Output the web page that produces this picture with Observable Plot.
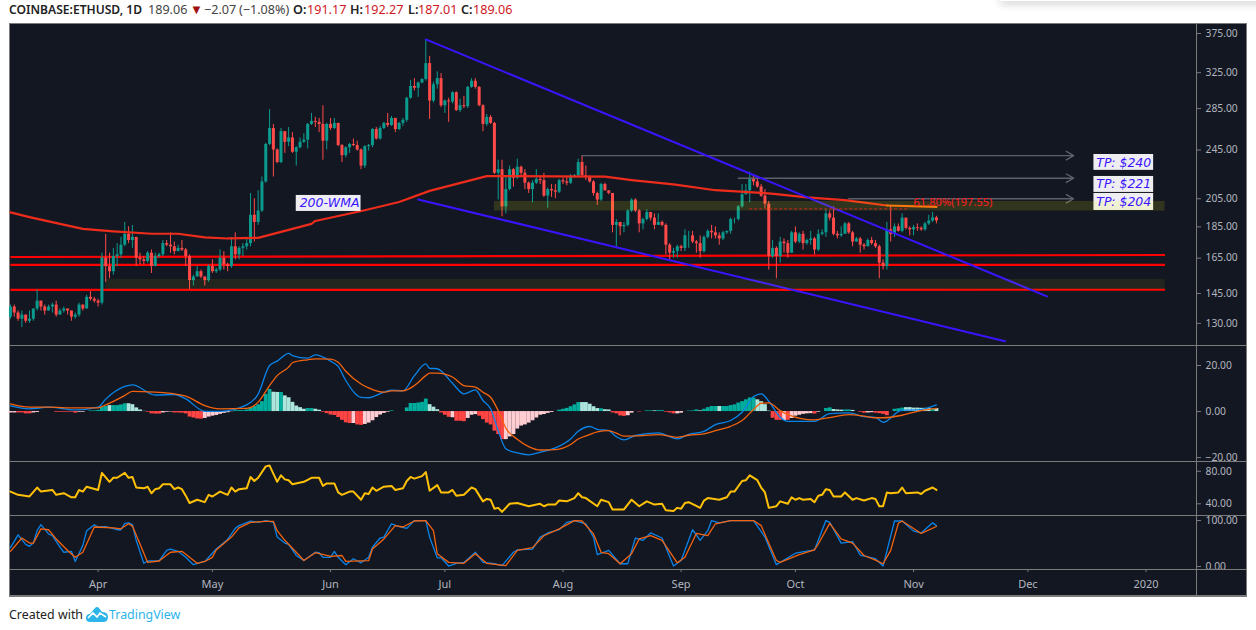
<!DOCTYPE html>
<html><head><meta charset="utf-8">
<script src="https://cdn.jsdelivr.net/npm/d3@7"></script>
<script src="https://cdn.jsdelivr.net/npm/@observablehq/plot@0.6"></script>
<style>
html,body{margin:0;padding:0;background:#fff;width:1256px;height:630px;overflow:hidden;font-family:"Noto Sans",sans-serif}
#page{position:relative;width:1256px;height:630px;overflow:hidden}
#page svg{position:absolute;left:0}
.abs{position:absolute}
#frame{left:9px;top:23px;width:1236px;height:572px;background:#131722;border:1px solid #7b7b7b}
.hline{left:9px;width:1237px;height:1px;background:#7b7b7b}
#vline{left:1196px;top:23px;width:1px;height:573px;background:#7b7b7b}
#shadow{left:1000px;top:-3px;width:270px;height:4px;box-shadow:0 2px 9px rgba(0,0,0,.3);background:#fff}
.lg{position:absolute;top:0;line-height:19px;font-size:12.6px;color:#444;white-space:pre}
.lg.b{font-weight:600;color:#222}
.lg.n{font-weight:600;color:#222;font-size:12.1px}
.lg.v{color:#d0171f}
.lg.t{color:#a01010;font-size:13px}
#foot{left:9px;top:606px;font-size:12.4px;line-height:18px;color:#222;white-space:pre}
</style></head><body><div id="page">
<div class="abs" id="frame"></div>
<div class="abs" id="shadow"></div>
<span class="lg n" style="left:9px">COINBASE:ETHUSD, 1D</span>
<span class="lg" style="left:148px">189.06</span>
<span class="lg t" style="left:190px">▼</span>
<span class="lg" style="left:204px">−2.07</span>
<span class="lg" style="left:239px">(−1.08%)</span>
<span class="lg b" style="left:293px">O:</span>
<span class="lg v" style="left:307px">191.17</span>
<span class="lg b" style="left:350px">H:</span>
<span class="lg v" style="left:364px">192.27</span>
<span class="lg b" style="left:408px">L:</span>
<span class="lg v" style="left:418px">187.01</span>
<span class="lg b" style="left:461px">C:</span>
<span class="lg v" style="left:473px">189.06</span>
<div class="abs" id="foot">Created with</div>
<svg id="logo" width="24" height="17" viewBox="0 0 24 17" style="position:absolute;left:85px;top:606px"><path d="M1 12 Q1 8 5 8 L10 2 Q12 0 14 2 L17 6 Q23 6 23 11 Q23 16 18 16 L5 16 Q1 16 1 12Z" fill="#2bb5e8"/><path d="M3 12 L8 7 L12 11 L15 7 L21 11" fill="none" stroke="#fff" stroke-width="1.6"/></svg>
<div class="abs" style="left:109px;top:606px;font-size:12.4px;line-height:18px;color:#2bb5e8">TradingView</div>
</div>
<script>
const firstDay = "2019-03-09";
const firstOpen = 133;
const closes = [138,135,132,134,131,132,137,141,138,136,138,139,134,136,137,136,133,134,139,137,143,142,141,140,165,160,157,166,167,173,180,176,178,165,164,163,168,160,166,167,174,173,172,169,171,170,166,152,154,157,154,152,160,157,158,165,161,160,172,167,171,172,174,193,188,196,218,250,265,245,234,262,252,256,243,247,252,254,269,272,271,269,253,269,265,270,249,240,247,250,249,245,231,248,249,264,255,265,270,268,275,264,270,273,296,309,307,313,317,336,293,311,318,288,293,292,302,283,288,287,308,315,308,288,269,276,270,225,228,199,212,228,221,230,225,217,212,217,220,219,207,212,211,210,219,218,217,222,223,234,223,222,218,209,204,216,211,209,186,188,185,186,196,204,196,187,190,195,191,186,188,186,173,168,169,172,171,179,179,175,174,169,178,182,181,179,177,181,182,190,190,199,208,211,221,218,214,207,201,166,171,166,175,174,168,181,175,180,174,176,177,170,180,181,194,191,180,179,180,187,181,175,177,173,172,176,174,172,162,160,183,180,185,182,191,184,183,184.5,184,183,187,189,191.17,189.06];
const highs = [139,139,136,136,134,136,137,147,141,139,139,140,141,137,138,137,136,135,140,139,144,146,143,142,168,180,168,171,174,178,188,185,186,178,168,166,169,170,168,168,176,176,181,175,173,176,171,167,155,160,158,154,161,164,159,170,169,162,178,181,172,174,178,209,205,211,222,251,284,269,246,265,262,266,261,248,256,260,270,280,276,275,288,270,275,275,270,250,248,251,255,253,246,249,250,265,266,267,271,280,277,275,271,275,297,316,318,314,318,366,345,314,326,324,294,296,303,303,295,298,309,318,318,309,289,279,278,271,236,236,222,231,229,237,231,228,218,219,228,222,225,213,216,216,220,221,222,224,224,237,240,231,223,219,210,217,217,211,209,190,188,188,197,205,205,197,191,197,195,194,194,189,187,174,171,173,173,183,182,182,176,179,179,183,186,185,181,182,182,191,191,200,216,216,226,223,222,216,212,203,176,172,178,177,176,182,185,181,182,177,182,178,183,183,197,196,199,182,185,188,188,182,178,178,174,177,178,176,173,164,188,200,187,187,194,190,185,186,187,185,188,193,195,192.27];
const lows = [132,133,131,128,130,130,131,136,136,134,136,135,133,134,135,134,131,132,133,136,137,141,140,138,139,151,153,155,160,165,172,174,171,160,161,161,162,156,160,165,166,172,168,167,170,169,160,147,149,154,153,149,151,156,156,157,158,157,159,164,164,166,170,172,175,186,195,217,249,222,233,233,242,248,242,231,246,251,246,268,266,261,236,245,263,264,248,234,238,242,248,244,228,229,244,247,254,254,264,266,267,261,263,267,271,295,304,297,312,315,274,291,306,286,280,271,290,282,281,285,285,307,306,287,262,267,269,224,204,192,194,211,214,220,223,212,209,202,216,216,206,198,206,205,209,216,215,216,221,222,222,219,217,207,200,203,211,208,181,172,179,181,185,195,195,181,183,189,189,183,186,185,167,164,165,165,169,169,171,174,168,165,168,177,177,177,173,176,180,180,187,189,198,208,202,215,213,206,198,158,165,153,162,168,165,168,174,174,170,173,173,167,169,179,178,189,179,177,178,181,180,172,175,168,170,172,173,171,153,158,158,175,178,181.5,181,183,179,179,182,182,182,186,188,187.01];

const histValues = [-.6,-.6,-.6,-.6,-1,-1,-.6,-.4,0,0,0,0,-.3,-.3,-.3,-.3,-.3,-.7,-.3,-.3,0,.3,.3,.5,1.9,2.2,2.6,2.6,2.6,2.9,3.4,3.4,3,1.6,.7,.1,-.3,-1,-1.1,-1.1,-.6,-.3,-.2,-.6,-.6,-.7,-1,-2.4,-2.8,-3.2,-3.3,-3,-2.4,-2,-1.7,-1.2,-.8,-.5,-.1,.4,.4,.4,.7,1.5,2.2,3,4.3,7.5,9.6,8.4,8.3,8.3,6.8,6,4,2.4,1.7,1,1.3,1.3,1,.6,-.3,-.9,-1.5,-1.7,-2.6,-3.8,-4.9,-5.2,-5.2,-5.8,-6,-5.6,-5,-4,-2.6,-1.5,-.8,-.3,.3,0,0,0,1.6,3.5,3.5,3.7,4,5.4,3,1.9,.8,-.6,-1.6,-2.5,-2.7,-4.2,-4.2,-4.4,-3,-1.6,-1.3,-2,-3.5,-5,-5.8,-8.5,-10,-12.2,-12.2,-11,-10,-7.6,-6.3,-5.8,-5,-4,-2.8,-1.6,-1.3,-.8,-.4,0,.6,1,1.4,2.1,2.9,3.9,3.9,3.9,3.2,2.1,1.3,1.2,.8,.7,-.6,-1,-1.9,-2.1,-1.8,-.7,0,-.2,0,.3,.3,.3,.4,.4,-.3,-.6,-1,-1,-.7,0,.2,.3,.7,.3,1,1.7,2.2,2.2,2.2,2.2,2.2,2.6,2.9,3.7,4.3,5.1,5.9,5.9,5.1,4.3,3,.2,-2.9,-3.8,-3.8,-3.9,-3.8,-3,-2,-1.6,-1.2,-1,-.9,-1.1,-.3,0,1.3,1.6,.9,.7,.6,.7,.7,.5,0,-.3,-.7,-.6,-.5,-.7,-.9,-1.2,-1.8,0,1,1.2,1.5,1.7,1.7,1.5,1.5,1.4,1.4,1.3,1.1,1.3];
const histShades = "pprrrrpp"+"tttt"+"rrrrrr"+"pp"+"tttttt"+"l"+"tttt"+"lllll"+"rrrr"+"ppp"+"rrrrrrrr"+"pppppppp"+"tttttttttt"+"ll"+"t"+"llllll"+"tt"+"ll"+"rrrrrrrr"+"p"+"rr"+"ppppppp"+"tttttttttt"+"lll"+"rrr"+"p"+"rrr"+"ppp"+"rrrrrrr"+"ppppppppppppp"+"ttttttt"+"lllll"+"t"+"ll"+"rrrr"+"pp"+"t"+"r"+"ttt"+"l"+"tt"+"rrr"+"pp"+"tttt"+"l"+"tttt"+"l"+"ttttttttt"+"llll"+"rrr"+"p"+"r"+"pppppp"+"r"+"p"+"ttt"+"lll"+"tt"+"l"+"t"+"rr"+"pp"+"rrrr"+"tttt"+"lllllll"+"t"+"l";

const macdDays = [0,5,10,17,23,25,30,32,38,43,46,51,55,62,65,68,70,73,74,78,80,84,86,88,92,94,98,100,103,106,109,110,112,116,119,122,124,126,128,130,133,136,139,143,147,149,152,154,157,159,161,164,170,175,178,182,185,189,192,195,197,199,202,204,211,215,220,224,227,229,234,238,243];
const macdLine = [2.5,1.2,1.9,.7,1.9,5.4,10.9,11.6,7.2,7.4,5.5,.1,.1,2.9,7.6,20,21.9,25.3,24.3,23.2,24.6,21.9,19.6,13.5,6.2,6,8.4,9.3,9,15.6,20.7,18.8,18.6,12.3,7.7,9.4,4.8,1.2,-8.3,-16.2,-18,-18.8,-17.7,-15.8,-11.9,-8.6,-6.5,-7.7,-8.3,-10.9,-12.3,-10.4,-9.3,-11.9,-9.9,-8.6,-5.7,-3.9,-.3,6.5,7.7,4.5,-2.5,-4.3,-4.3,-.9,-.6,-2.2,-2.5,-4.7,.6,.7,2.9];
const signalLine = [3.3,1.9,1.9,1.6,1.6,2.9,7,8.8,8.4,7.7,6.7,2.6,1.2,1.4,4.1,11.3,15.6,19.3,21.2,22.5,22.9,22.8,21.4,17.5,12,10.3,8.4,9,9,11.3,15.6,16.7,16.7,15,11.3,10.6,8.4,6.2,.4,-7.2,-12,-15.2,-16.7,-16.5,-14.3,-11.9,-10,-8.8,-8.3,-9.4,-10.7,-10.6,-10,-11.2,-10.3,-9.7,-8.3,-6.4,-3.9,.9,3.6,3.8,.4,-1.3,-3.6,-2.6,-1.3,-2,-2.7,-2.7,-1.6,.1,1.4];

const rsiDays = [0,2,5,7,8,11,12,14,16,17,18,19,20,23,24,26,27,28,30,31,32,33,35,36,37,38,39,40,42,43,44,45,46,47,49,51,52,53,55,57,58,59,60,62,63,64,65,67,68,70,71,72,73,74,77,79,81,82,83,85,86,87,89,90,92,93,94,95,96,98,100,101,103,104,105,106,108,109,110,112,113,115,116,117,119,121,122,124,125,126,127,128,129,131,133,136,139,140,141,143,144,146,148,149,150,151,154,155,157,158,161,163,165,167,169,171,172,174,175,176,177,178,181,182,183,186,188,189,190,192,193,194,196,197,198,199,201,202,204,205,206,207,208,210,211,212,213,214,215,216,218,219,221,222,224,226,227,228,229,230,231,233,234,235,238,239,240,242,243];
const rsiValues = [55,51,49,60,55,57,51,53,48,48,57,55,61,57,78,67,72,72,78,72,73,60,59,61,53,58,59,64,64,58,60,58,50,41,45,42,51,49,55,51,60,55,58,59,73,68,72,86,87,67,75,70,69,64,67,72,72,62,65,65,54,51,55,55,45,53,52,60,56,61,62,57,59,68,73,71,74,79,56,63,54,54,57,50,51,60,58,43,46,45,34,35,30,40,41,37,40,37,39,39,44,43,47,53,48,47,37,45,42,33,33,45,37,43,39,40,32,31,35,34,41,42,35,44,47,45,48,55,55,68,69,75,69,60,54,35,37,43,40,48,45,47,45,46,42,50,51,58,57,49,49,54,45,47,44,47,46,37,37,54,53,54,60,53,54,52,56,60,57];

const stochKDays = [0,2,4,5,6,7,8,10,11,13,14,16,17,19,20,22,23,25,28,29,30,31,32,33,35,36,39,41,42,44,46,48,50,51,54,57,59,60,63,65,67,69,70,72,73,75,77,80,81,82,84,85,86,88,90,92,94,95,97,98,100,102,104,106,109,110,112,113,115,117,119,122,124,127,129,132,133,137,139,141,144,146,148,151,153,154,157,160,162,164,166,168,171,174,176,179,181,183,184,186,189,195,198,201,206,211,214,215,218,221,223,227,229,232,234,237,239,242,243];
const stochK = [41,69,48,44,51,78,91,71,67,42,31,33,11,46,78,91,86,87,80,80,94,95,91,57,7,12,12,35,38,33,20,4,9,11,38,59,83,89,99,96,100,96,64,51,48,24,13,31,30,20,20,33,20,4,17,8,20,42,62,64,93,87,83,100,100,64,19,19,1,7,9,31,9,6,2,31,36,38,64,73,80,96,100,93,64,26,35,6,6,62,57,73,62,1,13,80,57,78,100,95,100,100,64,4,29,36,100,96,51,54,25,17,1,99,99,77,73,95,89];
const stochDDays = [0,3,5,6,8,10,12,15,17,19,22,27,29,31,32,34,36,39,42,45,49,51,53,54,58,60,63,67,69,70,72,75,77,80,84,87,88,94,95,98,101,103,106,109,111,112,115,119,122,125,130,133,137,140,144,148,150,153,155,157,160,163,165,168,171,175,177,180,183,185,189,195,197,201,202,207,211,212,215,218,221,224,227,229,231,233,234,239,243];
const stochD = [33,62,51,51,82,80,60,35,20,31,86,84,82,93,88,49,9,12,31,33,7,11,20,36,64,84,96,98,98,78,57,31,13,30,22,24,11,13,38,60,89,86,99,100,78,28,9,7,28,7,2,35,41,67,82,100,99,71,31,28,6,28,60,67,57,8,20,72,67,93,100,100,89,13,9,26,36,49,94,60,51,24,14,6,35,94,99,72,87];

const wmaDates = ["2019-03-09","2019-03-14","2019-03-22","2019-03-28","2019-04-05","2019-04-15","2019-04-22","2019-04-29","2019-05-05","2019-05-13","2019-05-27","2019-05-28","2019-06-10","2019-06-19","2019-06-27","2019-07-12","2019-08-12","2019-08-19","2019-08-30","2019-09-10","2019-09-22","2019-09-26","2019-10-04","2019-10-14","2019-10-25","2019-11-07"];
const wmaValues = [195,191.7,187,183.6,182,180.4,180.4,178,177.3,177.7,187,189,196.6,202.6,211,222.7,222.2,219.5,216,211.5,209.5,208.5,206,204,200,199];
const wmaOrangeFrom = "2019-10-25";

const upperChannel = {x:["2019-06-26","2019-12-06"],y:[367,143.5]};
const lowerChannel = {x:["2019-06-24","2019-11-25"],y:[204.5,121.8]};
const supportLeft = [165.7,161,146.9];
const supportRight = [166.9,161,147];
const supportSpan = ["2019-03-09","2020-01-06"];
const zoneStart = ["2019-07-14","2019-04-03"];
const zoneEnd = ["2020-01-06","2020-01-06"];
const zoneTop = [203,152.7];
const zoneBottom = [196,146.7];
const zoneAlpha = [.13,.065];
const targets = [240,221,205];
const targetStart = ["2019-08-06","2019-09-16","2019-10-15"];
const targetEnd = "2019-12-13";
const tpLabels = ["TP: $240","TP: $221","TP: $204"];
const tpTop = [241,222.4,209];
const tpBottom = [227.4,209.8,196.4];
const tpMid = [234,216,202.6];
const fibLevel = 197.55;
const fibSpan = ["2019-09-19","2019-10-31"];
const fibLabel = "61.80%(197.55)";
const wmaLabel = "200-WMA";

const mainTicks = [375,325,285,245,205,185,165,145,130];
const macdTicks = [20,0,-20];
const rsiTicks = [80,40];
const stochTicks = [100,0];
const monthTicks = ["2019-04-01","2019-05-01","2019-06-01","2019-07-01","2019-08-01","2019-09-01","2019-10-01","2019-11-01","2019-12-01","2020-01-01"];
const monthLabels = ["Apr","May","Jun","Jul","Aug","Sep","Oct","Nov","Dec","2020"];

const UP="#0b9b8e", DOWN="#ff4a4a", BLUE="#3a14ff", TXT="#b2b5be", GRID="#7b7b7b";
const shade = {t:"#00ac9c",l:"#ace5dc",r:"#ff4444",p:"#ffcdd2"};
const dayDate = i => d3.utcDay.offset(new Date(firstDay+"T00:00Z"), i);
const D = s => new Date(s+"T00:00Z");
const xOpt = {type:"utc",domain:[new Date("2019-03-08T18:00Z"),new Date("2020-01-14T06:00Z")]};
const fmt = d => d.toFixed(2).replace("-","−");
const base = {width:1256,marginLeft:9,marginRight:60,marginTop:0,marginBottom:0,x:{...xOpt,axis:null},style:{background:"transparent",overflow:"visible"}};
const yAxis = (ticks) => Plot.axisY(ticks,{anchor:"right",tickSize:4,tickPadding:5,stroke:GRID,fill:TXT,label:null,tickFormat:fmt,fontSize:10.3,fontFamily:"Noto Sans",textStroke:"none"});

const candles = closes.map((c,i)=>{const o=i?closes[i-1]:firstOpen;return {date:dayDate(i),open:o,close:c,high:highs[i],low:lows[i],color:c>=o?UP:DOWN};});
const wma = wmaDates.map((d,i)=>({date:D(d),v:wmaValues[i]}));
const orangeFrom = D(wmaOrangeFrom);
const zones = zoneStart.map((s,i)=>({x1:D(s),x2:D(zoneEnd[i]),y1:zoneBottom[i],y2:zoneTop[i],a:zoneAlpha[i]}));
const levels = supportLeft.map((v,i)=>({a:v,b:supportRight[i]}));
const tx1 = new Date("2019-12-18T08:00Z"), tx2 = new Date("2020-01-03T00:00Z"), txm = new Date("2019-12-26T04:00Z");
const tps = tpLabels.map((t,i)=>({t,y1:tpBottom[i],y2:tpTop[i],m:tpMid[i]}));
const italic = {fontFamily:"DejaVu Sans",fontStyle:"italic",fontSize:12.5,fill:"#3a14ff"};

const main = Plot.plot({...base,height:322,
  y:{type:"log",domain:[119.9,389],axis:null},
  marks:[
    Plot.link(levels,{x1:D(supportSpan[0]),x2:D(supportSpan[1]),y1:"a",y2:"b",stroke:"#ff0000",strokeWidth:2.2}),
    Plot.ruleX(candles,{x:"date",y1:"low",y2:"high",stroke:"color",strokeWidth:1}),
    Plot.ruleX(candles,{x:"date",y1:"open",y2:"close",stroke:"color",strokeWidth:3}),
    Plot.arrow(targets.map((v,i)=>({v,s:D(targetStart[i]),e:D(targetEnd)})),{x1:"s",x2:"e",y1:"v",y2:"v",bend:0,headLength:9,stroke:"#5d606b",strokeWidth:1.4}),
    Plot.line(wma.filter(d=>d.date<=orangeFrom),{x:"date",y:"v",stroke:"#ee2c1c",strokeWidth:2.2}),
    Plot.line(wma.filter(d=>d.date>=orangeFrom),{x:"date",y:"v",stroke:"#f4630f",strokeWidth:2.2}),
    Plot.line(upperChannel.x.map((d,i)=>({d:D(d),v:upperChannel.y[i]})),{x:"d",y:"v",stroke:BLUE,strokeWidth:2}),
    Plot.line(lowerChannel.x.map((d,i)=>({d:D(d),v:lowerChannel.y[i]})),{x:"d",y:"v",stroke:BLUE,strokeWidth:2}),
    Plot.rect(tps,{x1:tx1,x2:tx2,y1:"y1",y2:"y2",fill:"#eeeef2"}),
    Plot.rect([{}],{x1:D("2019-05-23"),x2:D("2019-06-09"),y1:195.7,y2:207.5,fill:"#eeeef2"}),
    Plot.rect(zones,{x1:"x1",x2:"x2",y1:"y1",y2:"y2",fill:"#ffff00",fillOpacity:"a"}),
    Plot.ruleY([fibLevel],{x1:D(fibSpan[0]),x2:D(fibSpan[1]),stroke:"#d0211a",strokeWidth:1,strokeDasharray:"3,2"}),
    Plot.text([fibLabel],{x:D("2019-11-01"),y:202,text:d=>d,textAnchor:"start",fill:"#e82020",fontFamily:"Noto Sans",fontWeight:500,fontSize:11}),
    Plot.text(tps,{x:txm,y:"m",text:"t",...italic}),
    Plot.text([wmaLabel],{x:new Date("2019-05-31T18:00Z"),y:201.5,text:d=>d,...italic}),
    yAxis(mainTicks)
  ]});

const macd = Plot.plot({...base,height:116,
  y:{domain:[-21.7,28.7],axis:null},
  marks:[
    Plot.ruleX(histValues.map((v,i)=>({d:dayDate(i),v,c:shade[histShades[i]]||shade.t})),{x:"d",y1:0,y2:"v",stroke:"c",strokeWidth:3.85}),
    Plot.line(macdDays.map((d,i)=>({d:dayDate(d),v:macdLine[i]})),{x:"d",y:"v",stroke:"#0a84e8",strokeWidth:1.3,curve:"monotone-x"}),
    Plot.line(macdDays.map((d,i)=>({d:dayDate(d),v:signalLine[i]})),{x:"d",y:"v",stroke:"#f4630f",strokeWidth:1.3,curve:"monotone-x"}),
    yAxis(macdTicks)
  ]});

const rsi = Plot.plot({...base,height:54,
  y:{domain:[25.6,92],axis:null},
  marks:[
    Plot.line(rsiDays.map((d,i)=>({d:dayDate(d),v:rsiValues[i]})),{x:"d",y:"v",stroke:"#ffc107",strokeWidth:2}),
    yAxis(rsiTicks)
  ]});

const stoch = Plot.plot({...base,height:81,marginBottom:27,
  y:{domain:[-6.5,111],axis:null},
  marks:[
    Plot.line(stochKDays.map((d,i)=>({d:dayDate(d),v:stochK[i]})),{x:"d",y:"v",stroke:"#0a84e8",strokeWidth:1.3}),
    Plot.line(stochDDays.map((d,i)=>({d:dayDate(d),v:stochD[i]})),{x:"d",y:"v",stroke:"#f4630f",strokeWidth:1.3}),
    yAxis(stochTicks),
    Plot.axisX(monthTicks.map(D),{tickSize:3,tickPadding:8,stroke:GRID,fill:TXT,label:null,fontSize:11,fontFamily:"Noto Sans",tickFormat:(d,i)=>monthLabels[i]})
  ]});

const page = document.getElementById("page");
[[main,23],[macd,345],[rsi,461],[stoch,515]].forEach(([el,top])=>{el.style.top=top+"px";page.appendChild(el);});
[23,345,461,515,569,595].forEach(t=>{const h=document.createElement("div");h.className="abs hline";h.style.top=t+"px";page.appendChild(h);});
const v=document.createElement("div");v.className="abs";v.id="vline";page.appendChild(v);
</script></body></html>
